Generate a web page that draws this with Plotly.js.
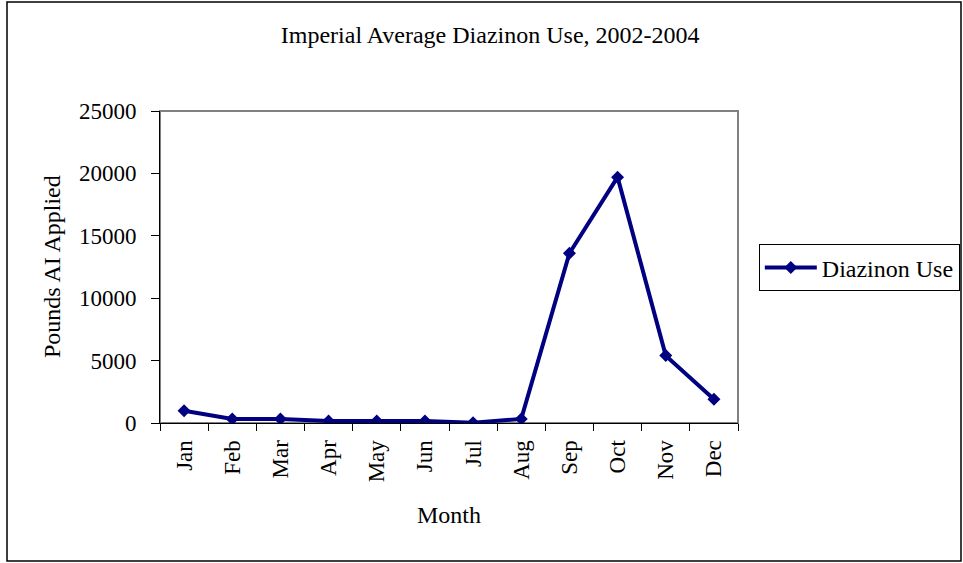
<!DOCTYPE html>
<html>
<head>
<meta charset="utf-8">
<script src="https://cdn.plot.ly/plotly-3.0.1.min.js"></script>
<style>
  body { margin: 0; background: #fff; }
  #myPlot { width: 963px; height: 563px; }
</style>
</head>
<body>
<div id="myPlot"></div>
<script>
// Monthly values
var months = ["Jan", "Feb", "Mar", "Apr", "May", "Jun", "Jul", "Aug", "Sep", "Oct", "Nov", "Dec"];
var diazinonUse = [980, 330, 330, 170, 170, 170, 30, 330, 13600, 19700, 5400, 1900];
var yTicks = [0, 5000, 10000, 15000, 20000, 25000];

var serif = "Liberation Serif, Times New Roman, serif";

var data = [
  {
    x: months,
    y: diazinonUse,
    mode: "lines+markers",
    name: "Diazinon Use",
    line: {color: "#000080", width: 4},
    marker: {color: "#000080", symbol: "diamond", size: 10}
  }
];

var layout = {
  width: 963,
  height: 563,
  margin: {l: 160, r: 225, t: 111, b: 140, autoexpand: false},
  paper_bgcolor: "#ffffff",
  plot_bgcolor: "#ffffff",
  font: {family: serif, size: 23, color: "#000000"},
  title: {
    text: "Imperial Average Diazinon Use, 2002-2004",
    font: {family: serif, size: 24, color: "#000000"},
    x: 0.509, xref: "container", xanchor: "center",
    y: 0.938, yref: "container", yanchor: "middle"
  },
  xaxis: {
    type: "category",
    tickson: "boundaries",
    ticks: "outside",
    ticklen: 7,
    tickcolor: "#000000",
    tickangle: -90,
    ticklabelstandoff: 7,
    tickfont: {family: serif, size: 23, color: "#000000"},
    showline: true,
    linecolor: "#000000",
    linewidth: 1,
    showgrid: false,
    zeroline: false,
    range: [-0.5, 11.5]
  },
  yaxis: {
    range: [0, 25000],
    tickvals: yTicks,
    ticktext: yTicks.map(String),
    ticks: "outside",
    ticklen: 8,
    tickcolor: "#000000",
    ticklabelstandoff: 10,
    tickfont: {family: serif, size: 23, color: "#000000"},
    showline: true,
    linecolor: "#000000",
    linewidth: 1,
    showgrid: false,
    zeroline: false
  },
  showlegend: true,
  legend: {
    x: 1.036, xanchor: "left",
    y: 0.497, yanchor: "middle",
    bordercolor: "#000000",
    borderwidth: 1,
    bgcolor: "#ffffff",
    itemwidth: 52,
    font: {family: serif, size: 24, color: "#000000"}
  },
  annotations: [
    {
      text: "Month",
      xref: "paper", yref: "paper",
      x: 0.5, y: -0.295,
      xanchor: "center", yanchor: "middle",
      showarrow: false,
      font: {family: serif, size: 24, color: "#000000"}
    },
    {
      text: "Pounds AI Applied",
      xref: "paper", yref: "paper",
      x: -0.187, y: 0.503,
      xanchor: "center", yanchor: "middle",
      textangle: -90,
      showarrow: false,
      font: {family: serif, size: 24, color: "#000000"}
    }
  ],
  shapes: [
    // plot area frame (grey, right and top)
    {
      type: "rect", xref: "paper", yref: "paper",
      x0: 0, x1: 1, y0: 0, y1: 1,
      line: {color: "#808080", width: 2},
      layer: "below"
    },
    // outer chart border
    {
      type: "rect", xref: "paper", yref: "paper",
      x0: -0.2647, x1: 1.3858, y0: -0.4423, y1: 1.349,
      line: {color: "#000000", width: 1.5},
      layer: "below"
    }
  ]
};

Plotly.newPlot("myPlot", data, layout, {displayModeBar: false});
</script>
</body>
</html>
